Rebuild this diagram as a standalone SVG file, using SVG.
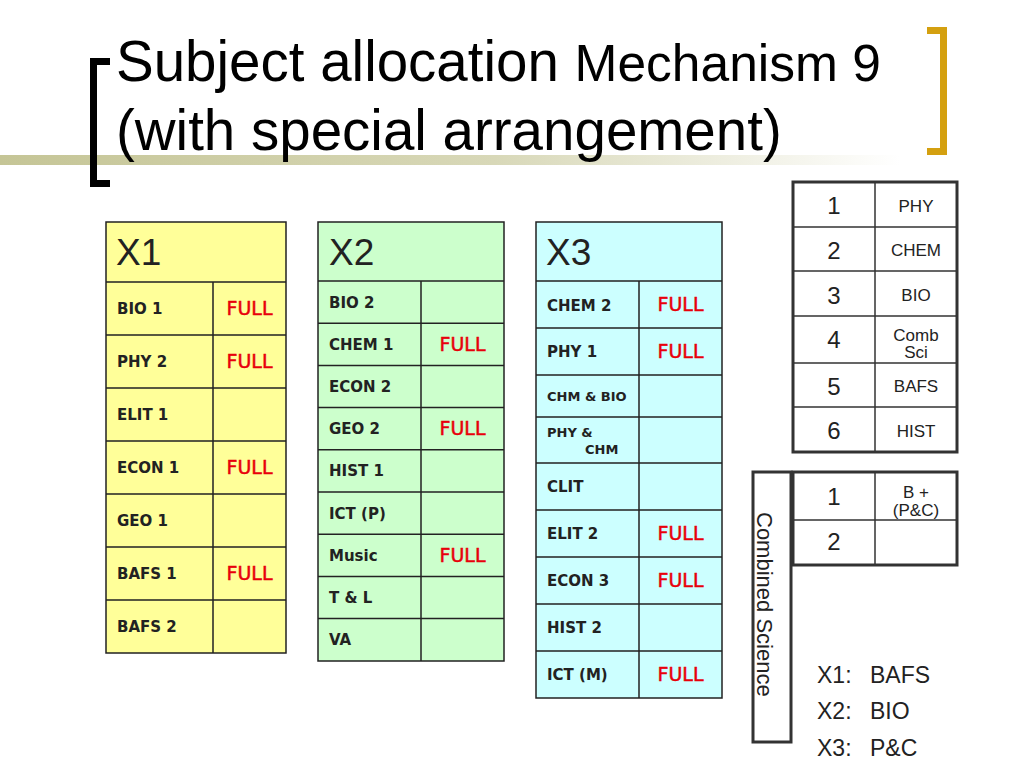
<svg xmlns="http://www.w3.org/2000/svg" width="1024" height="768" viewBox="0 0 1024 768">
<defs>
<linearGradient id="bar" x1="0" y1="0" x2="1" y2="0">
<stop offset="0" stop-color="#c5c596"/>
<stop offset="0.55" stop-color="#d8d8b8"/>
<stop offset="1" stop-color="#ffffff"/>
</linearGradient>
<style>
.grid{fill:none;stroke:#222;stroke-width:1.5}
.lbl{font-family:"DejaVu Sans",Verdana,sans-serif;font-weight:bold;font-size:15px;fill:#222}
.sm{font-size:13px}
.full{font-family:"DejaVu Sans",Verdana,sans-serif;font-size:19px;fill:#e8000b;stroke:#e8000b;stroke-width:0.5;text-anchor:middle}
.hdr{font-family:"Liberation Sans",Arial,sans-serif;font-size:37px;fill:#222}
.num{font-family:"Liberation Sans",Arial,sans-serif;font-size:24px;fill:#222;text-anchor:middle}
.sub{font-family:"Liberation Sans",Arial,sans-serif;font-size:17px;fill:#222;text-anchor:middle}
.thick{fill:none;stroke:#333;stroke-width:3}
.thin{fill:none;stroke:#333;stroke-width:1.5}
.key{font-family:"Liberation Sans",Arial,sans-serif;font-size:23px;fill:#222}
.ttl{font-family:"Liberation Sans",Arial,sans-serif;font-size:56.5px;fill:#000}
</style>
</defs>
<rect width="1024" height="768" fill="#fff"/>
<g id="title">
<rect x="0" y="155" width="900" height="10" fill="url(#bar)"/>
<path d="M110,58 H90 V187 H110 V180 H97 V65 H110 Z" fill="#000"/>
<path d="M927,27 H947 V155 H927 V148 H940 V34 H927 Z" fill="#d4a010"/>
<text class="ttl" x="116" y="81">Subject allocation <tspan font-size="51.5">Mechanism 9</tspan></text>
<text class="ttl" x="116" y="150">(with special arrangement)</text>
</g>
<g id="x1">
<rect x="106" y="222" width="180" height="431" fill="#ffff99"/>
<g class="grid">
<rect x="106" y="222" width="180" height="431"/>
<path d="M213,282 V653 M106,282 H286 M106,335 H286 M106,388 H286 M106,441 H286 M106,494 H286 M106,547 H286 M106,600 H286"/>
</g>
<text class="hdr" x="116" y="265">X1</text>
<text class="lbl" x="117" y="314">BIO 1</text>
<text class="lbl" x="117" y="367">PHY 2</text>
<text class="lbl" x="117" y="420">ELIT 1</text>
<text class="lbl" x="117" y="473">ECON 1</text>
<text class="lbl" x="117" y="526">GEO 1</text>
<text class="lbl" x="117" y="579">BAFS 1</text>
<text class="lbl" x="117" y="632">BAFS 2</text>
<text class="full" x="249.5" y="315">FULL</text>
<text class="full" x="249.5" y="368">FULL</text>
<text class="full" x="249.5" y="474">FULL</text>
<text class="full" x="249.5" y="580">FULL</text>
</g>
<g id="x2">
<rect x="318" y="222" width="186" height="439" fill="#ccffcc"/>
<g class="grid">
<rect x="318" y="222" width="186" height="439"/>
<path d="M421,281 V661 M318,281 H504 M318,323.2 H504 M318,365.4 H504 M318,407.6 H504 M318,449.8 H504 M318,492 H504 M318,534.2 H504 M318,576.4 H504 M318,618.6 H504"/>
</g>
<text class="hdr" x="329" y="265">X2</text>
<text class="lbl" x="329" y="307.6">BIO 2</text>
<text class="lbl" x="329" y="349.8">CHEM 1</text>
<text class="lbl" x="329" y="392">ECON 2</text>
<text class="lbl" x="329" y="434.2">GEO 2</text>
<text class="lbl" x="329" y="476.4">HIST 1</text>
<text class="lbl" x="329" y="518.6">ICT (P)</text>
<text class="lbl" x="329" y="560.8">Music</text>
<text class="lbl" x="329" y="603">T &amp; L</text>
<text class="lbl" x="329" y="645.2">VA</text>
<text class="full" x="462.5" y="350.8">FULL</text>
<text class="full" x="462.5" y="435.2">FULL</text>
<text class="full" x="462.5" y="561.8">FULL</text>
</g>
<g id="x3">
<rect x="536" y="222" width="186" height="476" fill="#ccffff"/>
<g class="grid">
<rect x="536" y="222" width="186" height="476"/>
<path d="M639,281 V698 M536,281 H722 M536,328 H722 M536,375 H722 M536,417 H722 M536,463 H722 M536,510 H722 M536,557 H722 M536,604 H722 M536,651 H722"/>
</g>
<text class="hdr" x="546" y="265">X3</text>
<text class="lbl" x="547" y="310.5">CHEM 2</text>
<text class="lbl" x="547" y="357">PHY 1</text>
<text class="lbl sm" x="547" y="401">CHM &amp; BIO</text>
<text class="lbl sm" x="547" y="437">PHY &amp;</text>
<text class="lbl sm" x="585" y="454">CHM</text>
<text class="lbl" x="547" y="492">CLIT</text>
<text class="lbl" x="547" y="539">ELIT 2</text>
<text class="lbl" x="547" y="586">ECON 3</text>
<text class="lbl" x="547" y="633">HIST 2</text>
<text class="lbl" x="547" y="680">ICT (M)</text>
<text class="full" x="680.5" y="311">FULL</text>
<text class="full" x="680.5" y="358">FULL</text>
<text class="full" x="680.5" y="540">FULL</text>
<text class="full" x="680.5" y="587">FULL</text>
<text class="full" x="680.5" y="681">FULL</text>
</g>
<g id="subjects">
<path class="thin" d="M875,182 V452 M793,227 H957 M793,271 H957 M793,316 H957 M793,363 H957 M793,407 H957"/>
<rect class="thick" x="793" y="182" width="164" height="270"/>
<text class="num" x="834" y="214">1</text>
<text class="num" x="834" y="259">2</text>
<text class="num" x="834" y="304">3</text>
<text class="num" x="834" y="348">4</text>
<text class="num" x="834" y="395">5</text>
<text class="num" x="834" y="439">6</text>
<text class="sub" x="916" y="212">PHY</text>
<text class="sub" x="916" y="256">CHEM</text>
<text class="sub" x="916" y="301">BIO</text>
<text class="sub" x="916" y="341">Comb</text>
<text class="sub" x="916" y="358">Sci</text>
<text class="sub" x="916" y="392">BAFS</text>
<text class="sub" x="916" y="437">HIST</text>
</g>
<g id="combined">
<path class="thin" d="M875,472 V565 M793,520 H957"/>
<rect class="thick" x="793" y="472" width="164" height="93"/>
<text class="num" x="834" y="505">1</text>
<text class="num" x="834" y="550">2</text>
<text class="sub" x="916" y="498">B +</text>
<text class="sub" x="916" y="516">(P&amp;C)</text>
</g>
<g id="combined-label">
<rect class="thick" x="753" y="472" width="38" height="270" fill="#fff"/>
<text transform="translate(757,512) rotate(90)" font-family="Liberation Sans,Arial,sans-serif" font-size="22" fill="#222">Combined Science</text>
</g>
<g id="key">
<text class="key" x="817" y="683">X1:<tspan x="870">BAFS</tspan></text>
<text class="key" x="817" y="719">X2:<tspan x="870">BIO</tspan></text>
<text class="key" x="817" y="756">X3:<tspan x="870">P&amp;C</tspan></text>
</g>
</svg>
